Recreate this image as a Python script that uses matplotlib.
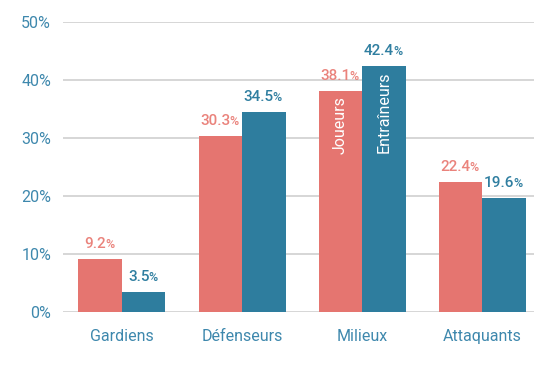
import matplotlib.pyplot as plt
import numpy as np

plt.rcParams['font.family'] = ['Roboto', 'DejaVu Sans']

positions = ['Gardiens', 'Défenseurs', 'Milieux', 'Attaquants']
joueurs = [9.2, 30.3, 38.1, 22.4]
entraineurs = [3.5, 34.5, 42.4, 19.6]
yticks = [0, 10, 20, 30, 40, 50]

red = '#e57570'
red_txt = '#ea837c'
blue = '#2e7d9e'
blue_txt = '#2f7ea0'
axis_txt = '#3e88ad'

fig = plt.figure(figsize=(5.34, 3.65), dpi=100)
ax = fig.add_axes([63 / 534, 1 - 312 / 365, 471 / 534, 290 / 365])

x = np.arange(len(positions))
w = 0.362
b1 = ax.bar(x - w / 2, joueurs, w, color=red, zorder=3)
b2 = ax.bar(x + w / 2, entraineurs, w, color=blue, zorder=3)


def value_label(xc, val, color):
    # number plus a smaller % sign, centred over the bar
    t = ax.annotate(f'{val:.1f}', (xc, val), xytext=(-3.5, 8), textcoords='offset points',
                    ha='center', va='baseline', fontsize=11, fontweight='medium', color=color)
    ax.annotate('%', xy=(1, 0), xycoords=t, xytext=(-0.8, 0), textcoords='offset points',
                ha='left', va='bottom', fontsize=9, fontweight='medium', color=color)


for xc, v in zip(x - w / 2, joueurs):
    value_label(xc, v, red_txt)
for xc, v in zip(x + w / 2, entraineurs):
    value_label(xc, v, blue_txt)

# series names written inside the Milieux bars
ax.annotate('Joueurs', (x[2] - w / 2, joueurs[2]), xytext=(0, -4), textcoords='offset points',
            rotation=90, ha='center', va='top', color='white', fontsize=11.5)
ax.annotate('Entraîneurs', (x[2] + w / 2, entraineurs[2]), xytext=(0, -4), textcoords='offset points',
            rotation=90, ha='center', va='top', color='white', fontsize=11.5)

ax.set_xlim(-0.49, 3.43)
ax.set_ylim(0, 50)
ax.set_yticks(yticks)
ax.set_yticklabels([f'{t}%' for t in yticks])
ax.set_xticks(x)
ax.set_xticklabels(positions)
ax.tick_params(axis='both', length=0, labelsize=11.5, labelcolor=axis_txt)
ax.tick_params(axis='y', pad=8.5)
ax.tick_params(axis='x', pad=12)
ax.grid(axis='y', color='#d3d3d3', linewidth=1.3, zorder=0)
for s in ax.spines.values():
    s.set_visible(False)

fig.savefig('out.png', dpi=100)
